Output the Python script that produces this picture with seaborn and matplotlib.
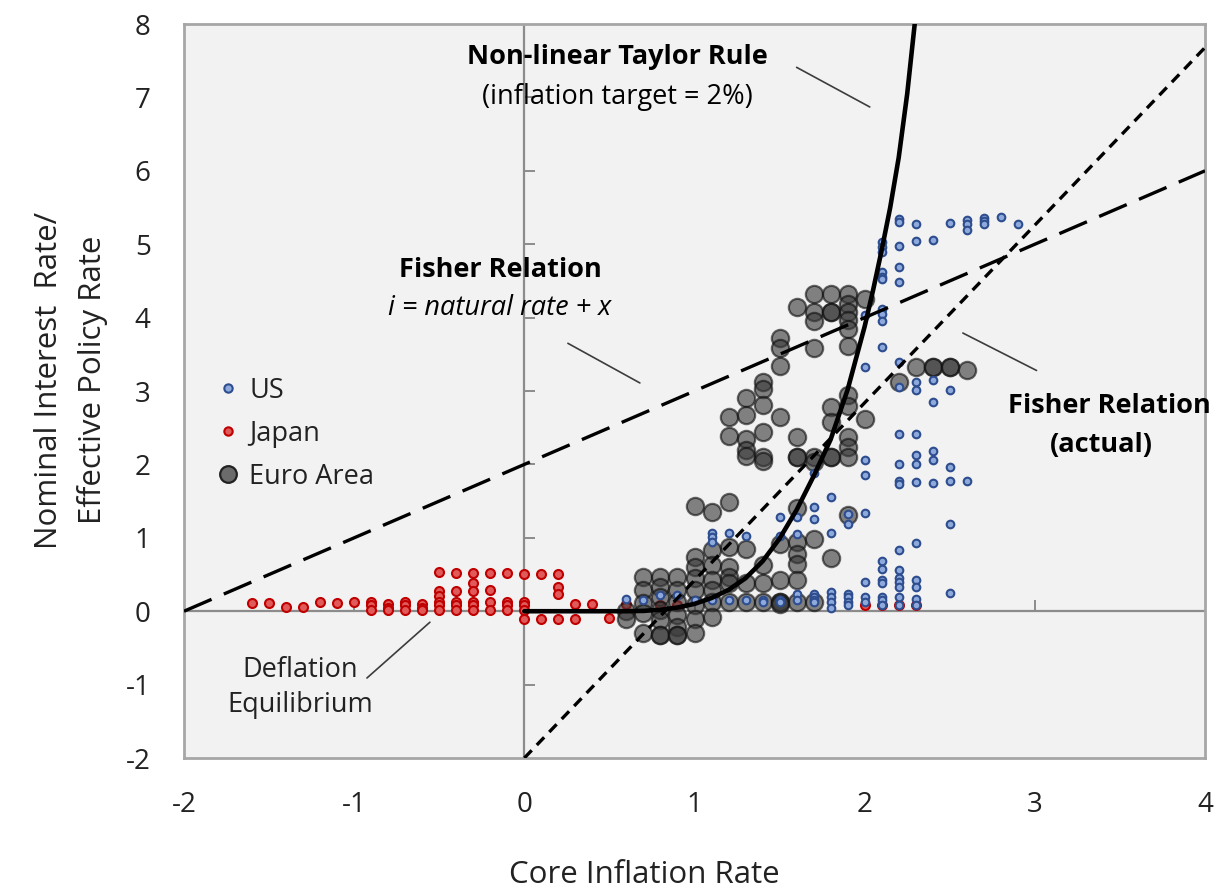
import matplotlib
matplotlib.use("Agg")
import matplotlib.pyplot as plt
from matplotlib import markers
import seaborn as sns
import pandas as pd

# ---- data -------------------------------------------------------------
# core inflation (x) -> list of policy rates observed at that inflation level
us_points = {
    0.6: [0.17], 0.7: [0.15], 0.8: [0.22], 0.9: [0.22], 1.0: [0.15],
    1.1: [1.06, 1.01, 0.94, 0.15],
    1.2: [1.06, 0.15],
    1.3: [1.03, 0.15],
    1.4: [0.15, 0.12],
    1.5: [1.28, 1.03, 0.15, 0.12],
    1.6: [1.28, 1.05, 0.24, 0.15],
    1.7: [1.88, 1.42, 1.26, 0.24, 0.19, 0.15, 0.12],
    1.8: [1.55, 1.06, 0.26, 0.19, 0.12, 0.05],
    1.9: [1.33, 1.19, 0.24, 0.19, 0.12, 0.08],
    2.0: [4.03, 3.33, 2.06, 1.85, 1.34, 0.40, 0.19, 0.12],
    2.1: [5.03, 4.96, 4.90, 4.62, 4.55, 4.52, 4.12, 4.05, 3.96, 3.60,
          0.69, 0.58, 0.42, 0.38, 0.19, 0.15, 0.08],
    2.2: [5.35, 5.30, 4.97, 4.69, 4.49, 3.40, 3.06, 2.42, 2.00, 1.78,
          1.74, 0.83, 0.56, 0.45, 0.40, 0.33, 0.19, 0.08],
    2.3: [5.27, 5.05, 3.12, 3.01, 2.41, 2.13, 2.01, 1.76, 0.93, 0.42,
          0.33, 0.17, 0.08],
    2.4: [5.06, 3.15, 2.85, 2.18, 2.06, 1.75],
    2.5: [5.29, 3.02, 1.97, 1.78, 1.19, 0.25],
    2.6: [5.33, 5.27, 5.19, 1.78],
    2.7: [5.36, 5.32, 5.27],
    2.8: [5.37],
    2.9: [5.27],
}

japan_points = {
    -1.6: [0.11], -1.5: [0.11], -1.4: [0.06], -1.3: [0.06],
    -1.2: [0.12], -1.1: [0.11], -1.0: [0.12],
    -0.9: [0.13, 0.08, 0.01], -0.8: [0.10, 0.05, 0.01],
    -0.7: [0.13, 0.08, 0.01], -0.6: [0.10, 0.05, 0.01],
    -0.5: [0.54, 0.28, 0.21, 0.13, 0.08, 0.01],
    -0.4: [0.52, 0.28, 0.13, 0.08, 0.01],
    -0.3: [0.52, 0.38, 0.28, 0.13, 0.08, 0.01],
    -0.2: [0.52, 0.29, 0.13, 0.01],
    -0.1: [0.52, 0.13, 0.08, 0.01],
    0.0: [0.51, 0.13, 0.08, 0.01, -0.10],
    0.1: [0.51, -0.10],
    0.2: [0.51, 0.33, 0.23, -0.10],
    0.3: [0.10, -0.10], 0.4: [0.10], 0.5: [-0.09], 0.6: [0.10],
    0.8: [0.09], 0.9: [0.08],
    2.0: [0.08], 2.1: [0.08], 2.2: [0.08], 2.3: [0.08],
}

euro_points = {
    0.6: [0.0, -0.1],
    0.7: [0.47, 0.29, 0.11, -0.03, -0.30],
    0.8: [0.47, 0.33, 0.20, 0.02, -0.12, -0.33, -0.33],
    0.9: [0.47, 0.29, 0.13, -0.05, -0.21, -0.33, -0.33],
    1.0: [1.44, 0.74, 0.60, 0.45, 0.29, 0.08, -0.10, -0.30],
    1.1: [1.35, 0.83, 0.63, 0.42, 0.29, 0.13, -0.08],
    1.2: [2.64, 2.39, 1.49, 0.88, 0.60, 0.47, 0.38, 0.13],
    1.3: [2.90, 2.67, 2.35, 2.19, 2.12, 0.85, 0.38, 0.13],
    1.4: [3.12, 3.03, 2.81, 2.44, 2.10, 2.05, 0.63, 0.38, 0.13],
    1.5: [3.72, 3.58, 3.34, 2.64, 0.92, 0.42, 0.13, 0.13, 0.10],
    1.6: [4.15, 2.38, 2.10, 2.10, 1.40, 0.94, 0.78, 0.64, 0.42, 0.13],
    1.7: [4.32, 4.08, 3.95, 3.59, 2.10, 2.03, 0.98, 0.13],
    1.8: [4.32, 4.08, 4.08, 2.78, 2.58, 2.10, 2.10, 0.72],
    1.9: [4.32, 4.19, 4.08, 3.97, 3.85, 3.61, 2.94, 2.80, 2.37, 2.24,
          2.10, 1.31],
    2.0: [4.25, 2.62],
    2.2: [3.12],
    2.3: [3.33],
    2.4: [3.33, 3.33],
    2.5: [3.33, 3.33],
    2.6: [3.29],
}

# non-linear Taylor rule (zero lower bound, target 2%)
taylor_x = [0.0, 0.6, 0.7, 0.8, 0.9, 1.0, 1.1, 1.2, 1.3, 1.4, 1.5, 1.6,
            1.7, 1.8, 1.9, 2.0, 2.05, 2.1, 2.15, 2.2, 2.25, 2.294]
taylor_y = [0.0, 0.0, 0.005, 0.02, 0.05, 0.10, 0.18, 0.29, 0.45, 0.68,
            0.99, 1.38, 1.84, 2.34, 3.02, 3.88, 4.38, 4.92, 5.50, 6.18,
            7.05, 8.0]

# Fisher relation: i = natural rate (2) + x
fisher_x = [-2.0, 4.0]
fisher_y = [0.0, 6.0]

# Fisher relation (actual)
fisher_actual_x = [0.0, 4.0]
fisher_actual_y = [-2.0, 7.68]

x_ticks = [-2, -1, 0, 1, 2, 3, 4]
y_ticks = [-2, -1, 0, 1, 2, 3, 4, 5, 6, 7, 8]


def to_frame(cols, name):
    rows = [(x, y) for x, ys in cols.items() for y in ys]
    df = pd.DataFrame(rows, columns=["inflation", "rate"])
    df["region"] = name
    return df


us_df = to_frame(us_points, "US")
jp_df = to_frame(japan_points, "Japan")
eu_df = to_frame(euro_points, "Euro Area")

# ---- figure -----------------------------------------------------------
sns.set_theme(style="white")
plt.rcParams["font.family"] = ["Open Sans", "DejaVu Sans"]
plt.rcParams["axes.unicode_minus"] = False

TXT = "#222222"
US_FACE, US_EDGE = "#8ea9db", "#2e4d8f"
JP_FACE, JP_EDGE = "#e05a5a", "#c00000"

fig = plt.figure(figsize=(12.21, 8.9), dpi=100)
ax = fig.add_axes([0.1507, 0.1483, 0.8362, 0.8247])
ax.set_facecolor("#f2f2f2")
for sp in ax.spines.values():
    sp.set_color("#a6a6a6")
    sp.set_linewidth(2)

ax.set_xlim(-2, 4)
ax.set_ylim(-2, 8)

# axes crossing at the origin, with their own tick marks
ax.axhline(0, color="#8c8c8c", lw=1.6, zorder=1)
ax.axvline(0, color="#8c8c8c", lw=1.6, zorder=1)
inner_x = [t for t in x_ticks if t not in (-2, 0, 4)]
inner_y = [t for t in y_ticks if t not in (-2, 0, 8)]
ax.plot(inner_x, [0] * len(inner_x), ls="none", marker=markers.TICKUP,
        ms=8, mew=1.4, color="#8c8c8c", zorder=1)
ax.plot([0] * len(inner_y), inner_y, ls="none", marker=markers.TICKRIGHT,
        ms=8, mew=1.4, color="#8c8c8c", zorder=1)

# scatter series
sns.scatterplot(data=eu_df, x="inflation", y="rate", ax=ax, s=155,
                color="#3a3a3a", alpha=0.62, edgecolor="#111111",
                linewidth=1.6, zorder=3, legend=False)
sns.scatterplot(data=us_df, x="inflation", y="rate", ax=ax, s=30,
                color=US_FACE, edgecolor=US_EDGE, linewidth=1.5,
                zorder=4, legend=False)
sns.scatterplot(data=jp_df, x="inflation", y="rate", ax=ax, s=42,
                color=JP_FACE, edgecolor=JP_EDGE, linewidth=1.5,
                zorder=2, legend=False)

# policy rules
sns.lineplot(x=fisher_x, y=fisher_y, ax=ax, color="black", lw=2.4,
             estimator=None, sort=False, zorder=5)
ax.lines[-1].set_dashes([9, 4])
sns.lineplot(x=fisher_actual_x, y=fisher_actual_y, ax=ax, color="black",
             lw=2.4, estimator=None, sort=False, zorder=5)
ax.lines[-1].set_dashes([3.2, 2.2])
sns.lineplot(x=taylor_x, y=taylor_y, ax=ax, color="black", lw=3.3,
             estimator=None, sort=False, zorder=6)
ax.lines[-1].set_solid_capstyle("round")

# ticks and labels
ax.set_xticks(x_ticks)
ax.set_yticks(y_ticks)
ax.tick_params(axis="both", length=0, labelsize=20, colors=TXT)
ax.tick_params(axis="x", pad=24)
ax.tick_params(axis="y", pad=24)
ax.set_xlabel("Core Inflation Rate", fontsize=22.5, color=TXT, va="center")
ax.xaxis.set_label_coords(0.451, -0.159)
ax.set_ylabel("Nominal Interest  Rate/\nEffective Policy Rate",
              fontsize=22.5, color=TXT, linespacing=1.55, va="center")
ax.yaxis.set_label_coords(-0.111, 0.515)

# annotations
txt = dict(ha="center", va="center", color="black", zorder=7)
FS = 19.5
ax.text(0.544, 7.55, "Non-linear Taylor Rule", fontsize=FS,
        fontweight="bold", **txt)
ax.text(0.544, 7.00, "(inflation target = 2%)", fontsize=FS, **txt)
ax.text(-0.143, 4.65, "Fisher Relation", fontsize=FS, fontweight="bold",
        **txt)
ax.text(-0.143, 4.13, "i = natural rate + x", fontsize=FS,
        style="italic", **txt)
ax.text(3.44, 2.79, "Fisher Relation", fontsize=FS, fontweight="bold", **txt)
ax.text(3.39, 2.26, "(actual)", fontsize=FS, fontweight="bold", **txt)
ax.text(-1.318, -0.80, "Deflation", fontsize=FS, color=TXT,
        ha="center", va="center", zorder=7)
ax.text(-1.318, -1.28, "Equilibrium", fontsize=FS, color=TXT,
        ha="center", va="center", zorder=7)

lead = dict(color="#3c3c3c", lw=1.2, zorder=7)
ax.plot([1.60, 2.03], [7.41, 6.87], **lead)
ax.plot([0.256, 0.679], [3.65, 3.11], **lead)
ax.plot([2.577, 3.01], [3.79, 3.28], **lead)
ax.plot([-0.925, -0.555], [-0.91, -0.15], **lead)

# legend
h_us = plt.Line2D([], [], ls="none", marker="o", ms=6,
                  mfc=US_FACE, mec=US_EDGE, mew=1.5)
h_jp = plt.Line2D([], [], ls="none", marker="o", ms=6,
                  mfc=JP_FACE, mec=JP_EDGE, mew=1.5)
h_eu = plt.Line2D([], [], ls="none", marker="o", ms=12,
                  mfc="#6b6b6b", mec="#222222", mew=1.6)
ax.legend([h_us, h_jp, h_eu], ["US", "Japan", "Euro Area"],
          loc="upper left", bbox_to_anchor=(0.019, 0.534), frameon=False,
          fontsize=19.5, handlelength=1.0, handletextpad=0.3,
          labelspacing=0.55, borderaxespad=0, labelcolor=TXT)

fig.savefig("out.png", dpi=100, facecolor="white")
